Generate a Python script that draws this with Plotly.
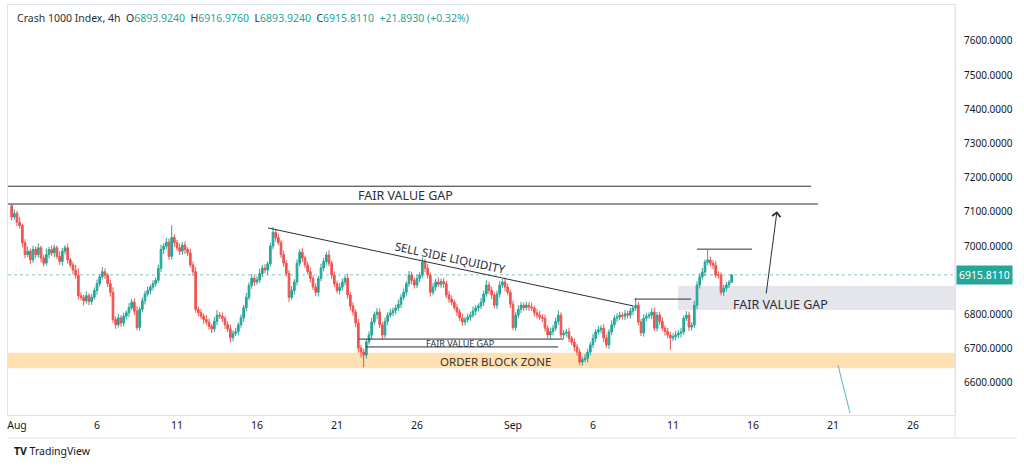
import plotly.graph_objects as go
import pandas as pd

# ---------------- data ----------------
first_open = 7118.0
closes = [
    7085, 7095, 7070, 7060, 7010, 6975, 6985, 6960, 6990, 6975,
    6995, 6965, 6950, 6975, 6990, 6980, 6995, 6970, 6955, 6985,
    6995, 6960, 6945, 6930, 6915, 6855, 6850, 6840, 6855, 6838,
    6850, 6870, 6890, 6910, 6925, 6915, 6890, 6865, 6785, 6770,
    6790, 6775, 6795, 6805, 6820, 6836, 6810, 6762, 6815, 6840,
    6860, 6870, 6880, 6890, 6900, 6935, 6990, 7000, 7012, 6970,
    7025, 7010, 6995, 6985, 7003, 6990, 6980, 6945, 6925, 6815,
    6805, 6795, 6785, 6778, 6765, 6758, 6780, 6798, 6795, 6788,
    6770, 6758, 6732, 6745, 6750, 6770, 6790, 6820, 6850, 6885,
    6906, 6895, 6901, 6920, 6936, 6930, 6948, 7000, 7040, 7025,
    7010, 6975, 6950, 6920, 6850, 6870, 6895, 6950, 6982, 6965,
    6945, 6925, 6905, 6880, 6865, 6905, 6936, 6955, 6974, 6950,
    6915, 6890, 6870, 6880, 6895, 6906, 6857, 6825, 6807, 6775,
    6702, 6690, 6681, 6720, 6740, 6778, 6800, 6807, 6770, 6740,
    6780, 6798, 6805, 6812, 6819, 6830, 6850, 6865, 6890, 6915,
    6900, 6886, 6905, 6915, 6953, 6935, 6915, 6865, 6880, 6895,
    6888, 6896, 6890, 6857, 6845, 6836, 6820, 6807, 6790, 6778,
    6785, 6792, 6798, 6810, 6819, 6825, 6836, 6860, 6886, 6870,
    6857, 6827, 6860, 6886, 6895, 6880, 6865, 6830, 6762, 6798,
    6815, 6827, 6820, 6827, 6822, 6819, 6805, 6798, 6792, 6789,
    6760, 6740, 6750, 6760, 6780, 6798, 6740, 6745, 6749, 6730,
    6719, 6705, 6690, 6661, 6668, 6672, 6690, 6711, 6730, 6749,
    6755, 6760, 6731, 6711, 6749, 6770, 6789, 6792, 6798, 6795,
    6802, 6798, 6810, 6819, 6827, 6778, 6746, 6789, 6795, 6798,
    6807, 6760, 6798, 6780, 6760, 6750, 6740, 6731, 6735, 6740,
    6745, 6749, 6789, 6798, 6763, 6769, 6827, 6886, 6910, 6924,
    6953, 6959, 6950, 6944, 6915, 6915, 6865, 6877, 6886, 6893.924,
    6915.811,
]
upper_wicks = [
    4, 12, 8, 15, 6, 10, 14, 7, 11, 9,
    13, 6, 10, 18, 8, 12, 9, 7, 14, 10,
    8, 12, 6, 9, 15, 20, 11, 8, 13, 7,
    10, 9, 12, 8, 14, 10, 6, 11, 15, 9,
    12, 8, 10, 7, 13, 9, 11, 14, 8, 10,
    9, 12, 7, 10, 8, 11, 14, 9, 12, 10,
    36, 10, 8, 13, 9, 11, 7, 12, 10, 14,
    9, 11, 8, 13, 10, 7, 12, 15, 9, 11,
    8, 10, 12, 9, 11, 7, 10, 8, 13, 9,
    12, 8, 10, 14, 9, 11, 7, 10, 16, 9,
    11, 8, 12, 9, 10, 13, 8, 11, 9, 12,
    7, 10, 13, 9, 11, 8, 12, 10, 9, 14,
    8, 11, 9, 12, 10, 7, 13, 9, 11, 8,
    12, 9, 10, 8, 11, 13, 9, 12, 10, 8,
    11, 9, 12, 8, 10, 13, 9, 11, 7, 12,
    10, 8, 11, 9, 14, 10, 12, 8, 11, 9,
    13, 9, 10, 8, 12, 11, 7, 10, 9, 12,
    8, 11, 10, 13, 9, 7, 12, 10, 14, 9,
    11, 8, 10, 12, 9, 13, 10, 8, 11, 9,
    12, 10, 8, 11, 9, 13, 7, 10, 12, 9,
    10, 8, 12, 9, 11, 14, 8, 10, 9, 12,
    7, 11, 9, 10, 8, 12, 10, 9, 13, 8,
    11, 9, 12, 10, 8, 13, 9, 11, 10, 8,
    12, 9, 10, 8, 21, 11, 9, 12, 10, 8,
    11, 13, 9, 10, 12, 8, 11, 9, 10, 12,
    9, 11, 8, 12, 10, 9, 13, 11, 10, 12,
    8, 29, 10, 9, 12, 11, 8, 10, 9, 7,
    1.165,
]
lower_wicks = [
    10, 8, 12, 9, 14, 11, 7, 13, 9, 10,
    8, 12, 10, 7, 11, 9, 13, 8, 10, 12,
    9, 11, 8, 13, 10, 12, 9, 14, 8, 11,
    10, 7, 12, 9, 8, 11, 10, 13, 9, 12,
    8, 11, 10, 9, 13, 7, 12, 8, 10, 9,
    11, 8, 12, 10, 9, 7, 11, 13, 8, 10,
    9, 12, 8, 11, 10, 13, 9, 8, 12, 10,
    11, 9, 13, 8, 10, 12, 9, 11, 8, 10,
    12, 9, 14, 10, 8, 11, 9, 12, 10, 8,
    10, 12, 8, 9, 11, 10, 13, 8, 9, 12,
    8, 10, 11, 9, 14, 8, 12, 10, 9, 11,
    10, 8, 12, 9, 11, 13, 8, 10, 12, 9,
    11, 9, 8, 12, 10, 9, 11, 13, 10, 12,
    14, 16, 35, 10, 9, 11, 8, 12, 10, 13,
    9, 11, 8, 10, 12, 9, 11, 8, 10, 9,
    12, 10, 9, 11, 8, 12, 10, 13, 9, 11,
    8, 10, 12, 9, 11, 10, 8, 12, 9, 11,
    10, 9, 11, 8, 12, 10, 9, 11, 8, 10,
    12, 9, 11, 10, 8, 12, 9, 11, 8, 10,
    9, 11, 10, 8, 12, 9, 11, 10, 8, 12,
    10, 9, 12, 11, 8, 10, 9, 12, 10, 11,
    9, 12, 10, 9, 11, 8, 12, 10, 9, 11,
    8, 10, 12, 9, 11, 10, 8, 12, 9, 10,
    11, 9, 10, 12, 8, 10, 9, 11, 10, 8,
    12, 9, 10, 11, 8, 12, 10, 35, 9, 11,
    10, 12, 9, 8, 11, 10, 9, 12, 10, 8,
    11, 9, 10, 12, 8, 10, 9, 11, 10, 9,
    0,
]
first_bar_time = "2023-07-31 16:00"
bar_freq = "4h"

price_ticks = [6600, 6700, 6800, 6900, 7000, 7100, 7200, 7300, 7400, 7500, 7600]
date_ticks = ["2023-08-01", "2023-08-06", "2023-08-11", "2023-08-16", "2023-08-21",
              "2023-08-26", "2023-09-01", "2023-09-06", "2023-09-11", "2023-09-16",
              "2023-09-21", "2023-09-26"]
date_tick_text = ["Aug", "6", "11", "16", "21", "26", "Sep", "6", "11", "16", "21", "26"]
last_price = 6915.811

# ---------------- build OHLC ----------------
times = pd.date_range(first_bar_time, periods=len(closes), freq=bar_freq)
opens = [first_open] + closes[:-1]
highs = [max(o, c) + u for o, c, u in zip(opens, closes, upper_wicks)]
lows = [min(o, c) - l for o, c, l in zip(opens, closes, lower_wicks)]

UP = "#26a69a"
DOWN = "#ef5350"
INK = "#2a2e39"
FONT = "Noto Sans"

fig = go.Figure()
fig.add_trace(go.Candlestick(
    x=times, open=opens, high=highs, low=lows, close=closes,
    increasing=dict(line=dict(color=UP, width=1), fillcolor=UP),
    decreasing=dict(line=dict(color=DOWN, width=1), fillcolor=DOWN),
    whiskerwidth=0, showlegend=False, hoverinfo="skip",
))

X0 = "2023-07-31 10:30"
X1 = "2023-09-28 15:00"

shapes = []
# order block zone
shapes.append(dict(type="rect", xref="x", yref="y", x0=X0, x1=X1, y0=6643, y1=6688,
                   fillcolor="#ffe0b2", line=dict(width=0), layer="below"))
# right fair value gap zone
shapes.append(dict(type="rect", xref="x", yref="y", x0="2023-09-11 07:30", x1=X1, y0=6813, y1=6883,
                   fillcolor="#e4e6eb", line=dict(width=0), layer="below"))
# last price dotted line
shapes.append(dict(type="line", xref="paper", yref="y", x0=0, x1=1, y0=last_price, y1=last_price,
                   line=dict(color="#26a69a", width=1, dash="dot"), layer="below", opacity=0.6))
# upper fair value gap lines
shapes.append(dict(type="line", xref="x", yref="y", x0=X0, x1="2023-09-19 15:00", y0=7175, y1=7175,
                   line=dict(color=INK, width=1)))
shapes.append(dict(type="line", xref="x", yref="y", x0=X0, x1="2023-09-20 01:30", y0=7123, y1=7123,
                   line=dict(color=INK, width=1)))
# sell side liquidity trendline
shapes.append(dict(type="line", xref="x", yref="y", x0="2023-08-16 16:30", y0=7053,
                   x1="2023-09-08 12:00", y1=6825, line=dict(color=INK, width=1)))
# local high line near Sep 8
shapes.append(dict(type="line", xref="x", yref="y", x0="2023-09-08 14:30", x1="2023-09-12 03:00",
                   y0=6845, y1=6845, line=dict(color=INK, width=1)))
# peak line
shapes.append(dict(type="line", xref="x", yref="y", x0="2023-09-12 12:00", x1="2023-09-15 22:30",
                   y0=6991, y1=6991, line=dict(color=INK, width=1)))
# lower fair value gap lines
shapes.append(dict(type="line", xref="x", yref="y", x0="2023-08-22 09:00", x1="2023-09-04 03:00",
                   y0=6728, y1=6728, line=dict(color=INK, width=1)))
shapes.append(dict(type="line", xref="x", yref="y", x0="2023-08-22 19:30", x1="2023-09-03 19:30",
                   y0=6705, y1=6705, line=dict(color=INK, width=1)))
# cyan line
shapes.append(dict(type="line", xref="x", yref="y", x0="2023-09-21 07:30", y0=6652,
                   x1="2023-09-22 01:30", y1=6512, line=dict(color="#4fb6c9", width=1)))
# frame below the time axis
shapes.append(dict(type="line", xref="paper", yref="paper", x0=0, x1=1.0655, y0=-0.056, y1=-0.056,
                   line=dict(color="#e0e3eb", width=1)))
shapes.append(dict(type="line", xref="paper", yref="paper", x0=1, x1=1, y0=-0.056, y1=1,
                   line=dict(color="#e0e3eb", width=1)))

annotations = []
annotations.append(dict(xref="x", yref="y", x="2023-08-25 07:00", y=7149, text="FAIR VALUE GAP",
                        showarrow=False, font=dict(family=FONT, size=12.5, color=INK)))
annotations.append(dict(xref="x", yref="y", x="2023-08-28 01:30", y=6968, text="SELL SIDE LIQUIDITY",
                        showarrow=False, textangle=12, font=dict(family=FONT, size=11.5, color=INK)))
annotations.append(dict(xref="x", yref="y", x="2023-09-14 15:00", y=6830, text="FAIR VALUE GAP",
                        showarrow=False, xanchor="left", font=dict(family=FONT, size=12.5, color=INK)))
annotations.append(dict(xref="x", yref="y", x="2023-08-28 16:30", y=6716, text="FAIR VALUE GAP",
                        showarrow=False, font=dict(family=FONT, size=9, color=INK)))
annotations.append(dict(xref="x", yref="y", x="2023-08-30 21:00", y=6662, text="ORDER BLOCK ZONE",
                        showarrow=False, font=dict(family=FONT, size=11.5, color="#3b3326")))
# arrow
annotations.append(dict(xref="x", yref="y", x="2023-09-17 12:00", y=7102,
                        axref="x", ayref="y", ax="2023-09-16 19:30", ay=6857,
                        text="", showarrow=True, arrowhead=4, arrowsize=1.6, arrowwidth=1,
                        arrowcolor=INK))
# last price badge
annotations.append(dict(xref="paper", yref="y", x=1.001, y=last_price, xanchor="left",
                        text="6915.8110", showarrow=False, bgcolor=UP, borderpad=2,
                        font=dict(family=FONT, size=10.5, color="white")))
# header
T = "color:#26a69a"
header = ("Crash 1000 Index, 4h  O<span style='%s'>6893.9240</span>  H<span style='%s'>6916.9760</span>"
          "  L<span style='%s'>6893.9240</span>  C<span style='%s'>6915.8110</span>"
          "  <span style='%s'>+21.8930 (+0.32%%)</span>") % (T, T, T, T, T)
annotations.append(dict(xref="paper", yref="paper", x=0.0074, y=0.968, xanchor="left", yanchor="middle",
                        text=header, showarrow=False, font=dict(family=FONT, size=10.5, color=INK)))
# logo
annotations.append(dict(xref="paper", yref="paper", x=0.004, y=-0.088, xanchor="left", yanchor="middle",
                        text="<b>TV</b> TradingView", showarrow=False,
                        font=dict(family=FONT, size=10.5, color="#131722")))

fig.update_layout(
    width=1024, height=466,
    margin=dict(l=8, r=69, t=5, b=51),
    paper_bgcolor="white", plot_bgcolor="white",
    font=dict(family=FONT, size=10.5, color="#131722"),
    shapes=shapes, annotations=annotations,
    boxgap=0.1,
    xaxis=dict(
        type="date", range=[X0, X1], rangeslider=dict(visible=False),
        tickvals=date_ticks, ticktext=date_tick_text, showgrid=False, zeroline=False,
        showline=True, linecolor="#e0e3eb", mirror=True, ticks="",
        tickfont=dict(family=FONT, size=10.5, color="#131722"),
    ),
    yaxis=dict(
        side="right", range=[6506, 7705], tickvals=price_ticks,
        ticktext=["%.4f" % v for v in price_ticks], showgrid=False, zeroline=False,
        showline=True, linecolor="#e0e3eb", mirror=True, ticks="", ticklabelstandoff=6,
        tickfont=dict(family=FONT, size=10, color="#131722"),
    ),
)

fig.write_html("out.html", config={"displayModeBar": False},
               post_script="document.body.style.margin='0px';")
